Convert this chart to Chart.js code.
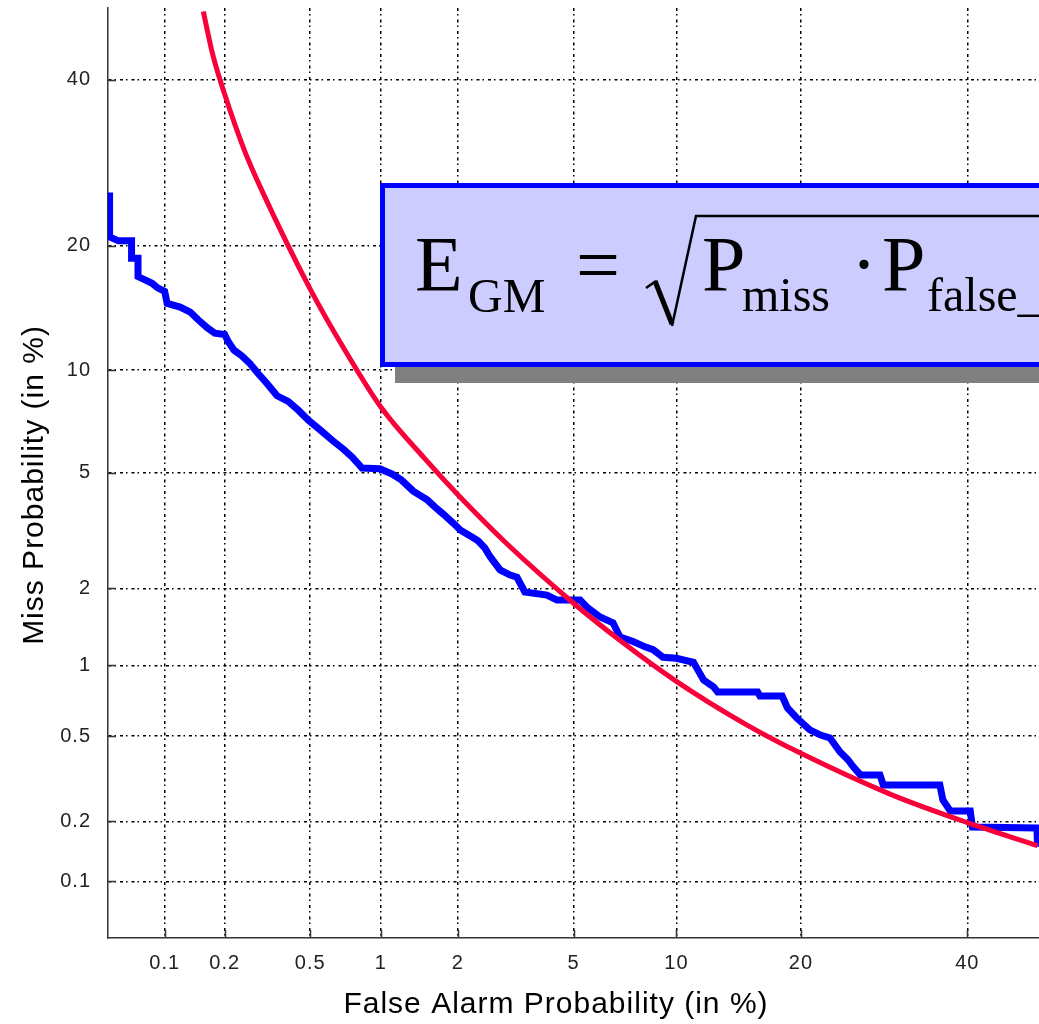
<!DOCTYPE html>
<html>
<head>
<meta charset="utf-8">
<script src="https://cdn.jsdelivr.net/npm/chart.js@4.4.1/dist/chart.umd.min.js"></script>
<style>
  html, body { margin: 0; padding: 0; background: #fff; overflow: hidden; }
  #wrap { width: 1039px; height: 1024px; }
</style>
</head>
<body>
<div id="wrap"><canvas id="det" width="1039" height="1024"></canvas></div>
<script>
// Axis range and tick values (in %), same on both axes
const axisMin = 0.05;
const axisMax = 50;
const tickValues = [0.1, 0.2, 0.5, 1, 2, 5, 10, 20, 40];

const xTitle = 'False Alarm Probability (in %)';
const yTitle = 'Miss Probability (in %)';

// DET curve (blue)
const detFalseAlarm = [0.051, 0.051, 0.057, 0.067, 0.067, 0.0725, 0.0725, 0.079, 0.086, 0.092,
  0.1, 0.103, 0.12, 0.135, 0.148, 0.164, 0.179, 0.2, 0.208, 0.222,
  0.243, 0.265, 0.289, 0.318, 0.354, 0.398, 0.441, 0.489, 0.552, 0.629,
  0.695, 0.759, 0.836, 0.99, 1.11, 1.21, 1.35, 1.53, 1.64, 1.76,
  1.92, 2.04, 2.22, 2.37, 2.51, 2.62, 2.84, 3.08, 3.25, 3.46,
  4.10, 4.42, 5.24, 5.51, 6.04, 6.61, 6.94, 7.57, 8.19, 8.63,
  9.2, 10.0, 11.1, 11.8, 12.5, 12.8, 16.0, 16.2, 18.2, 18.7,
  19.6, 20.9, 22.0, 23.0, 24.1, 25.0, 25.6, 26.4, 28.7, 29.1,
  36.3, 36.7, 37.7, 40.4, 40.7, 49.7, 49.8];
const detMiss = [25.7, 20.9, 20.5, 20.5, 18.8, 18.8, 17.1, 16.8, 16.5, 16.1,
  15.8, 14.8, 14.5, 14.1, 13.5, 12.9, 12.5, 12.4, 11.9, 11.3,
  10.9, 10.4, 9.8, 9.2, 8.5, 8.2, 7.75, 7.25, 6.78, 6.28,
  5.94, 5.61, 5.18, 5.15, 4.96, 4.75, 4.37, 4.09, 3.87, 3.67,
  3.42, 3.24, 3.09, 2.97, 2.80, 2.61, 2.34, 2.24, 2.2, 1.94,
  1.89, 1.81, 1.81, 1.70, 1.56, 1.48, 1.30, 1.25, 1.19, 1.16,
  1.08, 1.07, 1.03, 0.87, 0.815, 0.776, 0.776, 0.746, 0.746, 0.663,
  0.600, 0.532, 0.505, 0.49, 0.424, 0.39, 0.362, 0.333, 0.333, 0.299,
  0.299, 0.254, 0.225, 0.225, 0.188, 0.186, 0.15];

// Constant E_GM contour (red)
const egmFalseAlarm = [0.157, 0.175, 0.2, 0.25, 0.3, 0.5, 0.7, 1, 1.5, 2,
  3, 5, 7, 10, 15, 20, 30, 40, 49.8];
const egmMiss = [49.5, 43.4, 38, 30.6, 26, 16, 11.43, 7.9, 5.53, 4.25,
  2.9, 1.76, 1.25, 0.86, 0.563, 0.418, 0.27, 0.1975, 0.152];

const axisColor = '#333';
const gridDash = [3, 3, 1.5, 4];
const sansFont = '"Liberation Sans", Arial, Helvetica, sans-serif';
const serifFont = '"Liberation Serif", "Times New Roman", serif';

// inverse normal CDF (Acklam)
function probit(p) {
  const a = [-39.69683028665376, 220.9460984245205, -275.9285104469687, 138.3577518672690, -30.66479806614716, 2.506628277459239];
  const b = [-54.47609879822406, 161.5858368580409, -155.6989798598866, 66.80131188771972, -13.28068155288572];
  const c = [-0.007784894002430293, -0.3223964580411365, -2.400758277161838, -2.549671206504635, 4.374664141464968, 2.938163982698783];
  const d = [0.007784695709041462, 0.3224671290700398, 2.445134137142996, 3.754408661907416];
  const pl = 0.02425;
  if (p < pl) {
    const q = Math.sqrt(-2 * Math.log(p));
    return (((((c[0] * q + c[1]) * q + c[2]) * q + c[3]) * q + c[4]) * q + c[5]) / ((((d[0] * q + d[1]) * q + d[2]) * q + d[3]) * q + 1);
  }
  if (p > 1 - pl) {
    const q = Math.sqrt(-2 * Math.log(1 - p));
    return -(((((c[0] * q + c[1]) * q + c[2]) * q + c[3]) * q + c[4]) * q + c[5]) / ((((d[0] * q + d[1]) * q + d[2]) * q + d[3]) * q + 1);
  }
  const q = p - 0.5, r = q * q;
  return (((((a[0] * r + a[1]) * r + a[2]) * r + a[3]) * r + a[4]) * r + a[5]) * q / (((((b[0] * r + b[1]) * r + b[2]) * r + b[3]) * r + b[4]) * r + 1);
}

function normCdf(z) {
  const t = 1 / (1 + 0.3275911 * Math.abs(z) / Math.SQRT2);
  const y = 1 - (((((1.061405429 * t - 1.453152027) * t) + 1.421413741) * t - 0.284496736) * t + 0.254829592) * t * Math.exp(-z * z / 2);
  return z >= 0 ? (1 + y) / 2 : (1 - y) / 2;
}

// Normal deviate (probit) axis, values in %
class ProbitScale extends Chart.Scale {
  determineDataLimits() {
    this.min = this.options.min;
    this.max = this.options.max;
  }
  buildTicks() {
    return tickValues.map(v => ({ value: v }));
  }
  getLabelForValue(v) { return String(v); }
  configure() {
    super.configure();
    this._zStart = probit(this.min / 100);
    this._zRange = probit(this.max / 100) - this._zStart;
  }
  getPixelForValue(v) {
    if (v === null || v === undefined || isNaN(v)) return NaN;
    return this.getPixelForDecimal((probit(v / 100) - this._zStart) / this._zRange);
  }
  getValueForPixel(px) {
    return 100 * normCdf(this._zStart + this.getDecimalForPixel(px) * this._zRange);
  }
}
ProbitScale.id = 'probit';
ProbitScale.defaults = {};
Chart.register(ProbitScale);

// slightly spaced lettering like the original rendering
const spacing = {
  id: 'spacing',
  beforeUpdate(chart) { chart.ctx.letterSpacing = '1px'; },
  beforeDraw(chart) { chart.ctx.letterSpacing = '1px'; },
};

// short solid tick marks pointing into the plot
const innerTicks = {
  id: 'innerTicks',
  beforeDatasetsDraw(chart) {
    const c = chart.ctx, { x, y } = chart.scales;
    c.save();
    c.strokeStyle = axisColor;
    c.lineWidth = 1.5;
    c.beginPath();
    tickValues.forEach(v => {
      const px = Math.round(x.getPixelForValue(v)) + 0.5;
      c.moveTo(px, x.top); c.lineTo(px, x.top - 8);
      const py = Math.round(y.getPixelForValue(v)) + 0.5;
      c.moveTo(y.right, py); c.lineTo(y.right + 8, py);
    });
    c.stroke();
    c.restore();
  },
};

const axisTitles = {
  id: 'axisTitles',
  afterDraw(chart) {
    const c = chart.ctx;
    c.save();
    c.fillStyle = '#000';
    c.font = '30px ' + sansFont;
    c.textAlign = 'center';
    c.textBaseline = 'alphabetic';
    c.fillText(xTitle, 556, 1013);
    c.translate(43, 485);
    c.rotate(-Math.PI / 2);
    c.fillText(yTitle, 0, 0);
    c.restore();
  },
};

function formulaText(c, text, x, y, size) {
  c.font = size + 'px ' + serifFont;
  c.fillText(text, x, y);
}

// formula box with drop shadow, runs off the right edge like the original
const formulaBox = {
  id: 'formulaBox',
  afterDraw(chart) {
    const c = chart.ctx;
    c.save();
    c.letterSpacing = '0px';
    c.fillStyle = '#808080';
    c.fillRect(395, 199, 1000, 184);
    c.fillStyle = '#ccccff';
    c.fillRect(380, 183, 1000, 184);
    c.strokeStyle = '#0000ff';
    c.lineWidth = 5;
    c.strokeRect(382.5, 185.5, 1000, 179);

    c.fillStyle = '#000';
    c.textBaseline = 'alphabetic';
    formulaText(c, 'E', 415, 290, 78);
    formulaText(c, 'GM', 468, 312, 48);
    formulaText(c, '=', 576, 291, 78);
    formulaText(c, 'P', 702, 290, 78);
    formulaText(c, 'miss', 742, 311, 48);
    formulaText(c, '\u00b7', 851, 290, 78);
    formulaText(c, 'P', 882, 290, 78);
    formulaText(c, 'false_alarm', 927, 311, 48);

    // radical sign
    c.strokeStyle = '#000';
    c.lineCap = 'butt';
    c.lineWidth = 2.5;
    c.beginPath(); c.moveTo(646, 288); c.lineTo(656, 281); c.stroke();
    c.lineWidth = 5;
    c.beginPath(); c.moveTo(655, 281); c.lineTo(672, 324); c.stroke();
    c.lineWidth = 2.5;
    c.beginPath(); c.moveTo(672, 326); c.lineTo(696, 216); c.lineTo(1200, 216); c.stroke();
    c.restore();
  },
};

const tickFont = { family: sansFont, size: 20 };

new Chart(document.getElementById('det'), {
  type: 'line',
  data: {
    datasets: [
      {
        label: 'E_GM',
        data: egmFalseAlarm.map((v, i) => ({ x: v, y: egmMiss[i] })),
        borderColor: '#f8003a',
        borderWidth: 5,
        pointRadius: 0,
        cubicInterpolationMode: 'monotone',
        fill: false,
      },
      {
        label: 'DET',
        data: detFalseAlarm.map((v, i) => ({ x: v, y: detMiss[i] })),
        borderColor: '#0000ff',
        borderWidth: 7,
        borderJoinStyle: 'miter',
        pointRadius: 0,
        tension: 0,
        fill: false,
      },
    ],
  },
  options: {
    responsive: false,
    animation: false,
    events: [],
    layout: { padding: { top: 8, right: 0, bottom: 0, left: 0 } },
    plugins: { legend: { display: false }, tooltip: { enabled: false } },
    scales: {
      x: {
        type: 'probit', position: 'bottom', min: axisMin, max: axisMax,
        grid: { color: '#000', lineWidth: 1.5, drawTicks: false },
        border: { display: true, color: axisColor, width: 1.5, dash: gridDash },
        ticks: { color: '#222', font: tickFont, padding: 13, maxRotation: 0, autoSkip: false, callback: v => String(v) },
        afterFit: s => { s.height = 86; s.paddingLeft = 0; s.paddingRight = 0; },
      },
      y: {
        type: 'probit', position: 'left', min: axisMin, max: axisMax,
        grid: { color: '#000', lineWidth: 1.5, drawTicks: false },
        border: { display: true, color: axisColor, width: 1.5, dash: gridDash },
        ticks: { color: '#222', font: tickFont, padding: 17, autoSkip: false, callback: v => String(v) },
        afterFit: s => { s.width = 108; s.paddingTop = 0; s.paddingBottom = 0; },
      },
    },
  },
  plugins: [spacing, innerTicks, axisTitles, formulaBox],
});
</script>
</body>
</html>
